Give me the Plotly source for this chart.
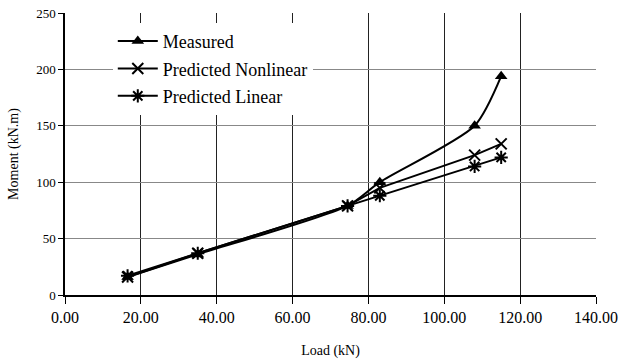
import plotly.graph_objects as go

load = [16.5, 35.0, 74.5, 83.0, 108.0, 115.0]
measured = [16, 36, 79, 100, 150, 194]
pred_nonlinear = [16, 37, 79, 95, 124, 134]
pred_linear = [17, 37, 79, 88, 114, 122]

x_ticks = [0, 20, 40, 60, 80, 100, 120, 140]
y_ticks = [0, 50, 100, 150, 200, 250]

FONT = "Liberation Serif"

fig = go.Figure()
fig.add_trace(go.Scatter(
    x=load, y=measured, name="Measured", mode="lines+markers",
    line=dict(color="black", width=2, shape="spline", smoothing=0.7),
    marker=dict(symbol="triangle-up", size=11, color="black"),
    legendgroup="a"))
fig.add_trace(go.Scatter(
    x=load, y=pred_nonlinear, name="Predicted Nonlinear", mode="lines+markers",
    line=dict(color="black", width=2),
    marker=dict(symbol="x-thin-open", size=11, color="black", line=dict(width=2, color="black")),
    legendgroup="b"))
fig.add_trace(go.Scatter(
    x=load, y=pred_linear, name="Predicted Linear", mode="lines+markers",
    line=dict(color="black", width=2),
    marker=dict(symbol="asterisk-open", size=11, color="black", line=dict(width=2, color="black")),
    legendgroup="c"))

fig.update_layout(
    width=621, height=360,
    margin=dict(l=65, r=25, t=13, b=65),
    paper_bgcolor="white", plot_bgcolor="white",
    font=dict(family=FONT, color="black"),
    showlegend=True,
    legend=dict(x=0.09, y=0.965, xanchor="left", yanchor="top",
                bgcolor="white", font=dict(family=FONT, size=18, color="black"),
                traceorder="grouped", tracegroupgap=1, itemwidth=40),
    xaxis=dict(range=[0, 140], tickvals=x_ticks, ticktext=[f"{v:.2f}" for v in x_ticks],
               showgrid=True, gridcolor="#222", gridwidth=1,
               showline=True, linecolor="black", linewidth=1.5,
               ticks="outside", ticklen=7, tickcolor="black",
               tickfont=dict(family=FONT, size=16),
               zeroline=False, automargin=False,
               title=dict(text="Load (kN)", font=dict(family=FONT, size=14), standoff=20)),
    yaxis=dict(range=[0, 250], tickvals=y_ticks,
               showgrid=True, gridcolor="#888", gridwidth=1,
               showline=True, linecolor="black", linewidth=1.5,
               ticks="outside", ticklen=5, tickcolor="black",
               tickfont=dict(family=FONT, size=13),
               zeroline=False, automargin=False,
               title=dict(text="Moment (kN.m)", font=dict(family=FONT, size=14), standoff=14)),
)

fig.write_html("out.html", config={"displayModeBar": False},
               post_script="document.body.style.margin='0';")
